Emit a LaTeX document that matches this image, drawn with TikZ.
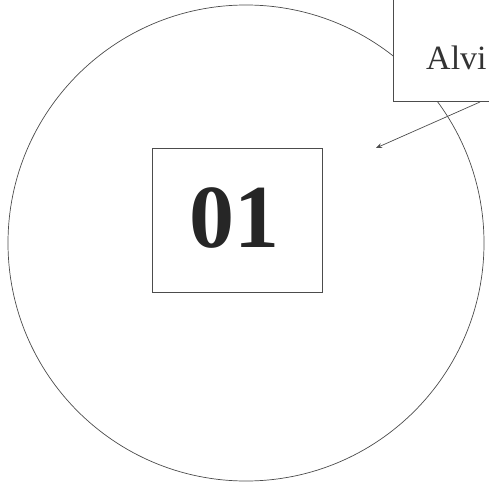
\documentclass[tikz,border=0pt]{standalone}
\usepackage{fontspec}
\setmainfont{Liberation Serif}
\usetikzlibrary{arrows.meta}
\tikzset{
  thinline/.style={draw=black!70, line width=0.7pt},
  numbox/.style={thinline, fill=white, minimum width=170pt, minimum height=144pt, inner sep=0pt},
  labelbox/.style={thinline, fill=white, minimum width=140pt, minimum height=140pt, inner sep=0pt},
}
\begin{document}
\begin{tikzpicture}[x=1pt,y=-1pt]
\useasboundingbox (0,0) rectangle (489,481);
\clip (0,0) rectangle (489,481);
\node[thinline, circle, minimum size=476pt, inner sep=0pt] (ring) at (246,243) {};
\node[numbox] (num) at (237,220) {};
\node[font=\bfseries\fontsize{90}{90}\selectfont, text=black!85] (numtext) at (234,218) {01};
\node[labelbox, anchor=south west] (lab) at (393,102) {};
\node[font=\fontsize{34}{34}\selectfont, text=black!80, anchor=base west, inner sep=0pt] (labtext) at (426,70) {Alvi};
\coordinate (tip) at (376,148);
\coordinate (start) at (480,102);
\draw[thinline, -{Stealth[length=6pt,width=5pt]}] (start) -- (tip);
\end{tikzpicture}
\end{document}
